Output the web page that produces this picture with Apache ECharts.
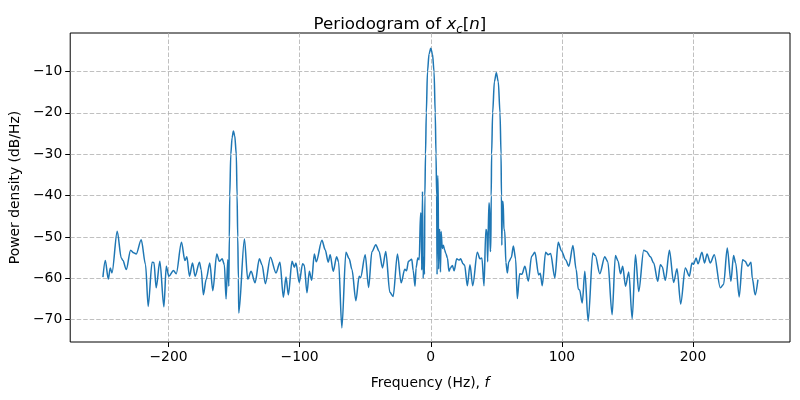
<!DOCTYPE html>
<html>
<head>
<meta charset="utf-8">
<script src="https://cdn.jsdelivr.net/npm/echarts@6/dist/echarts.min.js"></script>
<style>html,body{margin:0;padding:0;background:#fff}#c{width:800px;height:400px}</style>
</head>
<body>
<div id="c"></div>
<script>
// Frequency (Hz)
const freq = [
-250,-248.2,-245.9,-244.4,-243.1,-239.1,-236.0,-234.7,-232.2,-228.9,-226.6,-224.6,-220.8,-217.5,-215.5,-212.5,-211.1,-209.4,-206.6,-203.5,
-201.7,-199.7,-196.2,-194.1,-190.1,-187.5,-186.0,-184.0,-181.7,-179.7,-176.4,-175.1,-173.4,-171.3,-168.5,-166.2,-163.2,-161.2,-159.1,-157.4,
-156.1,-154.8,-154.0,-153.6,-153.3,-152.5,-151.5,-150.5,-149.5,-148.3,-147.7,-147.2,-146.7,-146.4,
-142.1,-139.6,-137.0,-134.0,-130.7,-128.7,-126.1,-122.3,-118.0,-115.0,-112.4,-110.4,-108.6,-105.8,-104.0,-102.8,-100.3,-97.7,-96.5,-94.4,
-92.6,-90.8,-88.8,-87.3,-83.0,-80.5,-78.2,-76.7,-74.4,-71.8,-70.3,-67.8,-64.7,-62.2,-60.1,-57.1,-54.6,-53.5,-50.0,-47.4,
-44.9,-41.9,-39.4,-36.8,-34.3,-31.2,-28.7,-25.4,-22.6,-19.8,-18.5,-17.0,-14.5,-13.4,-12.0,-11.2,-9.9,-8.8,-7.8,-7.3,
-6.9,-6.3,-5.8,-5.3,
-4.8,-4.5,-4.0,-3.4,-2.5,-1.3,0,1.3,2.5,3.4,4.0,4.5,4.8,
5.2,5.6,6.0,6.5,7.0,7.4,7.9,8.8,9.6,10.5,11.5,12.7,13.9,15.0,16.5,17.8,19.8,21.5,22.8,24.6,
25.8,27.9,29.9,32.0,35.5,37.5,39.0,40.6,42.0,42.8,43.4,44.3,44.8,45.3,
45.8,46.1,46.4,47.2,48.5,50.0,51.5,52.8,53.6,53.9,54.2,
54.6,55.2,55.8,56.4,57.3,58.4,59.5,61.4,63.0,64.7,66.0,67.8,69.5,71.8,74.4,76.9,79.4,82.3,83.5,85.0,
87.6,89.5,91.4,94.6,97.2,99.7,102.8,105.3,108.4,110.9,112.5,113.5,115.5,117.5,120.0,123.6,125.5,128.9,132.7,135.0,
138.3,140.8,142.8,144.7,146.4,148.5,151.0,153.6,156.1,158.6,162.4,164.5,167.5,170.0,173.1,175.1,176.5,178.9,182.0,185.2,
187.8,190.6,194.1,197.2,199.2,200.5,202.3,203.8,206.8,208.8,210.7,213.2,216.2,220.8,223.3,226.1,228.9,230.9,232.5,235.2,
237.8,239.8,241.9,244.2,245.2,247.4,249.5
];
// Power density (dB/Hz)
const power = [
-59.7,-55.7,-60.2,-57.5,-58.7,-48.6,-55.1,-55.7,-57.9,-53.2,-53.8,-54.1,-50.7,-56.7,-66.8,-56.1,-56.2,-62.3,-55.9,-66.9,
-57.1,-59.5,-58.1,-58.9,-51.3,-55.7,-54.8,-59.5,-56.3,-59.5,-56.1,-57.9,-64.0,-60.3,-56.3,-63.0,-54.1,-55.9,-55.3,-56.7,
-65.0,-55.5,-61.9,-50.0,-40.0,-30.0,-26.0,-24.4,-25.5,-30.0,-40.0,-50.0,-60.0,-68.4,
-50.5,-60.2,-58.3,-61.1,-55.3,-56.7,-61.3,-54.9,-58.7,-56.1,-64.6,-59.7,-64.0,-55.9,-57.3,-56.3,-61.0,-56.5,-56.8,-63.5,
-58.3,-60.5,-54.1,-56.0,-50.8,-53.1,-56.1,-54.3,-58.3,-54.8,-56.0,-72.0,-53.7,-55.3,-57.9,-65.4,-59.5,-59.8,-54.3,-62.2,
-53.6,-51.9,-53.5,-57.5,-53.5,-63.4,-64.4,-54.1,-61.1,-57.8,-58.2,-55.9,-55.4,-58.1,-61.9,-57.5,-55.1,-55.5,-44.2,-44.5,
-58.0,-39.0,-60.0,-55.0,
-59.0,-40.0,-30.0,-20.0,-10.0,-5.8,-4.4,-5.8,-10.0,-20.0,-30.0,-40.0,-59.1,
-35.3,-35.5,-57.8,-48.2,-48.5,-58.5,-48.7,-52.8,-52.0,-53.1,-54.0,-55.1,-58.3,-57.5,-56.9,-58.2,-55.3,-55.6,-55.3,-56.5,
-56.8,-61.8,-56.7,-61.8,-53.7,-55.3,-55.1,-61.8,-48.2,-48.5,-56.0,-41.8,-42.0,-53.5,
-53.0,-40.0,-30.0,-20.0,-12.5,-10.3,-12.5,-20.0,-30.0,-40.0,-52.0,
-41.4,-41.5,-48.2,-48.5,-56.2,-58.7,-56.0,-55.0,-52.2,-55.3,-64.9,-58.9,-59.0,-57.1,-60.7,-54.7,-53.7,-59.2,-58.8,-61.8,
-53.7,-54.3,-54.0,-59.9,-51.3,-53.4,-55.5,-57.1,-52.1,-57.9,-62.6,-62.8,-66.0,-58.3,-70.4,-53.9,-54.5,-58.9,-54.8,-56.0,
-68.8,-54.5,-55.8,-58.9,-57.1,-61.9,-58.5,-69.8,-54.3,-63.2,-53.2,-53.5,-54.8,-56.3,-60.7,-56.7,-57.2,-60.5,-53.2,-61.0,
-57.7,-66.2,-57.5,-59.5,-56.3,-56.6,-55.1,-56.5,-53.7,-56.3,-54.1,-56.3,-54.3,-62.3,-61.5,-52.7,-60.7,-54.5,-56.3,-64.5,
-55.5,-55.9,-57.1,-56.1,-60.0,-64.0,-60.3
];
const xTicks = [-200, -100, 0, 100, 200];
const yTicks = [-70, -60, -50, -40, -30, -20, -10];

const fmt = v => (v < 0 ? '\u2212' + Math.abs(v) : String(v));
const FONT = 'DejaVu Sans';
const chart = echarts.init(document.getElementById('c'), null, {renderer: 'canvas'});
const data = freq.map((f, i) => [f, power[i]]);

chart.setOption({
  animation: false,
  backgroundColor: '#fff',
  title: {
    text: '{t|Periodogram of }{i|x}{s|c}{t|[}{i|n}{t|]}',
    left: 'center',
    top: 9,
    textStyle: {
      fontWeight: 'normal',
      rich: {
        t: {fontFamily: FONT, fontWeight: 'normal', fontSize: 16.7, color: '#000', lineHeight: 22},
        i: {fontFamily: FONT, fontWeight: 'normal', fontStyle: 'italic', fontSize: 16.7, color: '#000', lineHeight: 22},
        s: {fontFamily: FONT, fontWeight: 'normal', fontStyle: 'italic', fontSize: 11.7, color: '#000', lineHeight: 12, verticalAlign: 'bottom'}
      }
    }
  },
  grid: {left: 69, right: 10, top: 33, bottom: 58, show: true, borderColor: '#000', borderWidth: 1, backgroundColor: 'transparent'},
  xAxis: {
    type: 'value',
    min: -274.95,
    max: 273.95,
    splitNumber: 5,
    name: '{t|Frequency (Hz), }{i|f}',
    nameLocation: 'middle',
    nameGap: 34,
    nameTextStyle: {
      rich: {
        t: {fontFamily: FONT, fontSize: 13.9, color: '#000'},
        i: {fontFamily: FONT, fontStyle: 'italic', fontSize: 13.9, color: '#000'}
      }
    },
    axisLine: {show: false, onZero: false},
    axisTick: {show: true, inside: false, length: 5, lineStyle: {color: '#000', width: 1}, customValues: xTicks},
    axisLabel: {customValues: xTicks, formatter: fmt, fontFamily: FONT, fontSize: 13.9, color: '#000', margin: 8},
    splitLine: {show: true, lineStyle: {color: '#b0b0b0', width: 0.8, type: [4.5, 2]}}
  },
  yAxis: {
    type: 'value',
    min: -75.4,
    max: -0.7,
    splitNumber: 7,
    name: 'Power density (dB/Hz)',
    nameLocation: 'middle',
    nameGap: 48,
    nameRotate: 90,
    nameTextStyle: {fontFamily: FONT, fontSize: 13.9, color: '#000'},
    axisLine: {show: false, onZero: false},
    axisTick: {show: true, inside: false, length: 5, lineStyle: {color: '#000', width: 1}, customValues: yTicks},
    axisLabel: {customValues: yTicks, formatter: fmt, fontFamily: FONT, fontSize: 13.9, color: '#000', margin: 8},
    splitLine: {show: true, lineStyle: {color: '#b0b0b0', width: 0.8, type: [4.5, 2]}}
  },
  series: [{
    type: 'line',
    data: data,
    showSymbol: false,
    smooth: 0.3,
    smoothMonotone: 'x',
    lineStyle: {color: '#1f77b4', width: 1.5},
    z: 3
  }]
});
</script>
</body>
</html>
